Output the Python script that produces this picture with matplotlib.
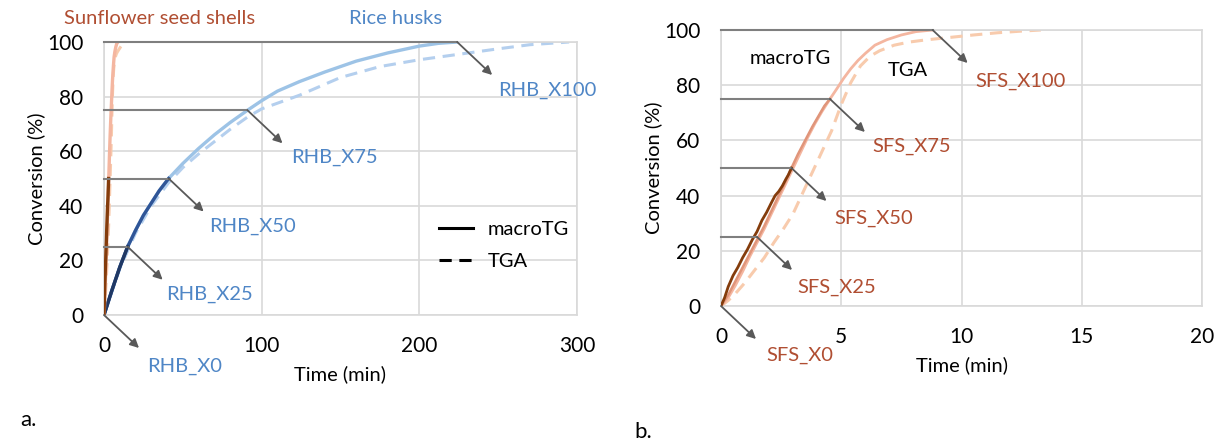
import matplotlib.pyplot as plt
import numpy as np
from matplotlib.lines import Line2D

plt.rcParams['font.family'] = ['Lato', 'DejaVu Sans']

# rice husks (RHB), time in min, conversion in %
rh_mtg_t = [0, 5, 10, 15, 20, 25, 30, 35, 41, 50, 60, 70, 80, 91, 100, 110, 124, 140, 160, 180, 200, 212, 224]
rh_mtg_c = [0, 9, 17.5, 25, 31, 36.5, 41, 45.5, 50, 55.5, 61, 66, 70.5, 75, 78.5, 82, 85.5, 89, 93, 96, 98.5, 99.5, 100]
rh_tga_t = [0, 10, 20, 30, 41, 50, 60, 70, 80, 91, 100, 124, 150, 175, 200, 225, 250, 270, 295]
rh_tga_c = [0, 17, 30, 40, 48.5, 54, 59, 63.5, 68, 72.5, 75.5, 80.5, 87, 91, 93.5, 95.5, 97.5, 99, 100]

# sunflower seed shells (SFS), macroTG runs stopped at X50, X75, X100
sfs_r50_t = [0, 0.15, 0.3, 0.5, 0.7, 0.9, 1.1, 1.3, 1.5, 1.7, 1.9, 2.1, 2.25, 2.4, 2.55, 2.7, 2.8, 2.93]
sfs_r50_c = [0, 3, 7, 11, 14, 17.5, 20.5, 24, 27, 31, 34, 37.5, 40, 41.5, 43.5, 46, 47.5, 50]
sfs_r75_t = [0, 0.3, 0.6, 0.9, 1.2, 1.5, 1.8, 2.1, 2.4, 2.7, 2.93, 3.2, 3.5, 3.8, 4.1, 4.3, 4.53]
sfs_r75_c = [0, 4, 9, 14, 19, 24, 29, 34.5, 40, 45.5, 50, 55, 60, 65, 69.5, 72.5, 75]
sfs_r100_t = [0, 0.3, 0.6, 0.9, 1.2, 1.5, 1.8, 2.1, 2.4, 2.7, 3.0, 3.3, 3.6, 3.9, 4.2, 4.53, 4.8, 5.1, 5.4,
              5.7, 6.0, 6.4, 6.9, 7.5, 8.1, 8.8]
sfs_r100_c = [0, 3, 7.5, 12.5, 18, 23, 28, 33.5, 39, 44.5, 50, 55.5, 61, 66, 70.5, 75, 78.5, 82.5, 86,
              89, 91.5, 94.5, 96.5, 98.2, 99.4, 100]
sfs_tga_t = [0, 0.3, 0.6, 1.0, 1.4, 1.8, 2.2, 2.6, 3.0, 3.4, 3.8, 4.2, 4.6, 5.0, 5.4, 5.8, 6.2, 6.6, 7.2,
             7.8, 8.5, 9.5, 10.5, 11.5, 12.5, 13.3]
sfs_tga_c = [0, 2, 4.5, 8.5, 13, 17.5, 23, 28, 33.5, 41, 48.5, 56, 63.5, 73, 81, 87, 90.5, 92.5, 94.5,
             95.6, 96.4, 97.3, 98.2, 99, 99.6, 100]

# sampling points
levels = [0, 25, 50, 75, 100]
rh_mark_t = [0, 15, 41, 91, 224]
sfs_mark_t = [0, 1.5, 2.93, 4.53, 8.8]
rh_labels = ['RHB_X0', 'RHB_X25', 'RHB_X50', 'RHB_X75', 'RHB_X100']
sfs_labels = ['SFS_X0', 'SFS_X25', 'SFS_X50', 'SFS_X75', 'SFS_X100']

GRID = '#D9D9D9'
ARROW = '#595959'
BLUE_TXT = '#4F86C6'
BROWN_TXT = '#B04E32'
FS = 14.5


def style_ax(ax, xmax, xstep):
    ax.set_xlim(0, xmax)
    ax.set_ylim(0, 100)
    ax.set_xticks(np.arange(0, xmax + 1, xstep))
    ax.set_yticks(np.arange(0, 101, 20))
    ax.grid(True, color=GRID, lw=1.2)
    ax.set_axisbelow(True)
    for s in ax.spines.values():
        s.set_color(GRID)
        s.set_linewidth(1.2)
    ax.tick_params(length=0, labelsize=15)
    ax.tick_params(axis='x', pad=15)
    ax.tick_params(axis='y', pad=15)
    ax.set_xlabel('Time (min)', fontsize=FS, labelpad=7)
    ax.set_ylabel('Conversion (%)', fontsize=FS, labelpad=1)


def marks(ax, times, labels, color, lab_off):
    for t, c, lab, lo in zip(times, levels, labels, lab_off):
        if t > 0:
            ax.plot([0, t], [c, c], color='#7F7F7F', lw=1.5, zorder=4, clip_on=False)
        ax.annotate('', xy=(t, c), xytext=(35, -33), textcoords='offset pixels',
                    arrowprops=dict(arrowstyle='<|-', color=ARROW, lw=1.3, mutation_scale=13,
                                    shrinkA=0, shrinkB=0), zorder=5, annotation_clip=False)
        ax.annotate(lab, xy=(t, c), xytext=lo, textcoords='offset pixels', ha='center',
                    va='center', color=color, fontsize=FS, annotation_clip=False)


fig = plt.figure(figsize=(12.22, 4.45), dpi=100)
ax1 = fig.add_axes([104 / 1222, 1 - 315 / 445, 473 / 1222, 273 / 445])
ax2 = fig.add_axes([721 / 1222, 1 - 306 / 445, 481 / 1222, 276 / 445])

# panel a
style_ax(ax1, 300, 100)
rt = np.array(rh_mtg_t)
rc = np.array(rh_mtg_c)
ax1.plot(rh_tga_t, rh_tga_c, color='#B4CFEE', lw=2.2, ls=(0, (4, 2.5)), zorder=2)
ax1.plot(rt, rc, color='#9DC3E6', lw=2.4, zorder=3)
ax1.plot(rt[rc <= 50], rc[rc <= 50], color='#2F5597', lw=2.4, zorder=3)
ax1.plot(rt[rc <= 25], rc[rc <= 25], color='#203864', lw=2.4, zorder=3)
ax1.plot(sfs_tga_t, sfs_tga_c, color='#F8CBAD', lw=2.2, ls=(0, (4, 2.5)), zorder=2)
ax1.plot(sfs_r100_t, sfs_r100_c, color='#F4B6A0', lw=2.4, zorder=3)
ax1.plot(sfs_r50_t, sfs_r50_c, color='#843C0C', lw=2.4, zorder=3)
marks(ax1, rh_mark_t, rh_labels, BLUE_TXT, [(81, -51), (82, -48), (84, -48), (87, -47), (90, -48)])
ax1.legend(handles=[Line2D([], [], color='black', lw=2.2),
                    Line2D([], [], color='black', lw=2.2, ls=(0, (4, 2.5)))],
           labels=['macroTG', 'TGA'], loc='upper left', bbox_to_anchor=(0.67, 0.41),
           frameon=False, fontsize=FS, handlelength=1.7, handletextpad=0.7, labelspacing=0.75)
fig.text(160 / 1222, 1 - 18 / 445, 'Sunflower seed shells', color=BROWN_TXT, fontsize=FS,
         ha='center', va='center')
fig.text(396 / 1222, 1 - 19 / 445, 'Rice husks', color=BLUE_TXT, fontsize=FS, ha='center', va='center')

# panel b
style_ax(ax2, 20, 5)
ax2.plot(sfs_tga_t, sfs_tga_c, color='#F8CBAD', lw=2.2, ls=(0, (4, 2.5)), zorder=2)
ax2.plot(sfs_r100_t, sfs_r100_c, color='#F4B6A0', lw=2, zorder=3)
ax2.plot(sfs_r75_t, sfs_r75_c, color='#E0957A', lw=1.8, zorder=3)
ax2.plot(sfs_r50_t, sfs_r50_c, color='#843C0C', lw=2, zorder=3)
marks(ax2, sfs_mark_t, sfs_labels, BROWN_TXT, [(79, -49), (80, -50), (82, -50), (82, -47), (88, -51)])
fig.text(790 / 1222, 1 - 58 / 445, 'macroTG', fontsize=FS, ha='center', va='center')
fig.text(908 / 1222, 1 - 70 / 445, 'TGA', fontsize=FS, ha='center', va='center')

fig.text(20 / 1222, 1 - 420 / 445, 'a.', fontsize=16, va='center')
fig.text(634 / 1222, 1 - 432 / 445, 'b.', fontsize=16, va='center')

fig.savefig('out.png', dpi=100)
